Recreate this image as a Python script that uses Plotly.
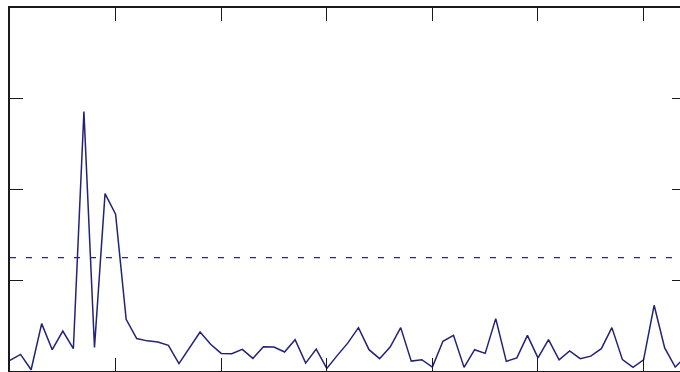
import plotly.graph_objects as go

# sample index and signal values
sample = list(range(65))
signal = [0.117, 0.183, 0.014, 0.522, 0.235, 0.440, 0.246, 2.858, 0.260, 1.955,
          1.728, 0.570, 0.357, 0.332, 0.319, 0.283, 0.081, 0.260, 0.429, 0.294,
          0.194, 0.191, 0.238, 0.139, 0.268, 0.264, 0.209, 0.345, 0.087, 0.242,
          0.029, 0.172, 0.310, 0.478, 0.235, 0.136, 0.264, 0.478, 0.109, 0.125,
          0.043, 0.327, 0.393, 0.040, 0.235, 0.194, 0.577, 0.106, 0.145, 0.393,
          0.145, 0.345, 0.123, 0.222, 0.136, 0.164, 0.246, 0.478, 0.125, 0.040,
          0.123, 0.724, 0.255, 0.043, 0.161]
threshold = 1.25
x_ticks = [0, 10, 20, 30, 40, 50, 60]
y_ticks = [0, 1, 2, 3, 4]

frame = "#1a1a1a"
fig = go.Figure()
fig.add_trace(go.Scatter(x=sample, y=signal, mode="lines",
                         line=dict(color="#22227a", width=1.5),
                         showlegend=False, hoverinfo="skip"))
fig.add_trace(go.Scatter(x=[sample[0], sample[-1]], y=[threshold, threshold],
                         mode="lines", yaxis="y2",
                         line=dict(color="#2c2c6a", width=1.3, dash="6px,10px"),
                         showlegend=False, hoverinfo="skip"))

fig.update_layout(
    width=680, height=372,
    margin=dict(l=10, r=0, t=8, b=1),
    paper_bgcolor="white", plot_bgcolor="white",
    xaxis=dict(range=[0, 63.45], tickvals=x_ticks, ticks="inside", ticklen=13,
               tickwidth=1.4, tickcolor=frame, showticklabels=False,
               showline=True, linecolor=frame, linewidth=1.8, mirror="ticks",
               showgrid=False, zeroline=False),
    yaxis=dict(range=[0, 4], tickvals=y_ticks, ticks="inside", ticklen=13,
               tickwidth=1.4, tickcolor=frame, showticklabels=False,
               showline=True, linecolor=frame, linewidth=1.8, mirror=False,
               showgrid=False, zeroline=False),
    yaxis2=dict(range=[0, 4], tickvals=y_ticks, ticks="inside", ticklen=8,
                tickwidth=1.4, tickcolor=frame, showticklabels=False,
                showline=False, overlaying="y", side="right",
                showgrid=False, zeroline=False),
)

fig.write_html("out.html")
